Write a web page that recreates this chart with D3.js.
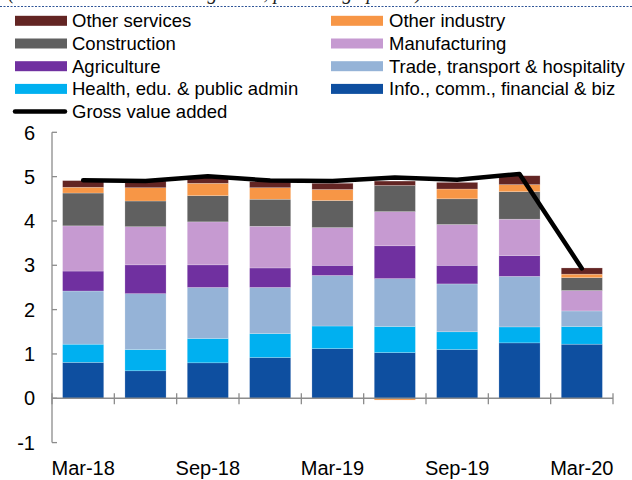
<!DOCTYPE html>
<html>
<head>
<meta charset="utf-8">
<script src="https://cdn.jsdelivr.net/npm/d3@7"></script>
<style>
  body { margin: 0; background: #fff; }
  svg { display: block; font-family: "Liberation Sans", Arial, sans-serif; }
</style>
</head>
<body>
<div id="chart"></div>
<script>
// Quarters on the x axis
const quarters = ["Mar-18", "Jun-18", "Sep-18", "Dec-18", "Mar-19", "Jun-19", "Sep-19", "Dec-19", "Mar-20"];
const tickLabels = ["Mar-18", "Sep-18", "Mar-19", "Sep-19", "Mar-20"];
const yTicks = [-1, 0, 1, 2, 3, 4, 5, 6];

// Contributions (percentage points), bottom to top of each stack
const infoCommFin   = [0.81, 0.62, 0.80, 0.92, 1.12, 1.03, 1.10, 1.25, 1.22];
const healthEdu     = [0.41, 0.48, 0.55, 0.54, 0.51, 0.59, 0.40, 0.36, 0.40];
const tradeTransport= [1.20, 1.26, 1.15, 1.04, 1.14, 1.08, 1.08, 1.14, 0.35];
const agriculture   = [0.45, 0.65, 0.51, 0.44, 0.23, 0.74, 0.42, 0.47, 0.00];
const manufacturing = [1.02, 0.86, 0.97, 0.94, 0.85, 0.77, 0.92, 0.82, 0.46];
const construction  = [0.74, 0.58, 0.59, 0.61, 0.61, 0.59, 0.58, 0.62, 0.29];
const otherIndustry = [0.13, 0.30, 0.28, 0.26, 0.25, -0.04, 0.22, 0.16, 0.08];
const otherServices = [0.15, 0.15, 0.13, 0.14, 0.14, 0.10, 0.15, 0.20, 0.14];
const grossValueAdded = [4.92, 4.90, 5.01, 4.91, 4.90, 4.98, 4.93, 5.06, 2.93];

const series = [
  { key: "info",   label: "Info., comm., financial & biz",   values: infoCommFin,    color: "#0e4fa0" },
  { key: "health", label: "Health, edu. & public admin",     values: healthEdu,      color: "#00b0f0" },
  { key: "trade",  label: "Trade, transport & hospitality",  values: tradeTransport, color: "#95b3d7" },
  { key: "agri",   label: "Agriculture",                     values: agriculture,    color: "#7030a0" },
  { key: "manuf",  label: "Manufacturing",                   values: manufacturing,  color: "#c69ad1" },
  { key: "constr", label: "Construction",                    values: construction,   color: "#606060" },
  { key: "othind", label: "Other industry",                  values: otherIndustry,  color: "#f79646" },
  { key: "othsrv", label: "Other services",                  values: otherServices,  color: "#632523" }
];

// legend order as laid out in two columns
const legendLeft  = ["othsrv", "constr", "agri", "health"];
const legendRight = ["othind", "manuf", "trade", "info"];

const width = 632;
const height = 480;

const svg = d3.select("#chart")
  .append("svg")
  .attr("width", width)
  .attr("height", height);

// subtitle cut off by the top edge (only descenders show), and dotted rule
svg.append("text")
  .attr("x", 8)
  .attr("y", -1)
  .attr("font-family", "Liberation Serif, serif")
  .attr("font-style", "italic")
  .attr("font-size", 20)
  .attr("fill", "#222")
  .text("(contributions to annual growth, percentage points)");

svg.append("line")
  .attr("x1", 0).attr("x2", width)
  .attr("y1", 6.5).attr("y2", 6.5)
  .attr("stroke", "#2f5597")
  .attr("stroke-width", 1.2)
  .attr("stroke-dasharray", "2,1.5");

// scales
const x = d3.scaleBand()
  .domain(quarters)
  .range([52, 613])
  .paddingInner(0.34)
  .paddingOuter(0.17);

const y = d3.scaleLinear()
  .domain([-1, 6])
  .range([442.6, 132.3]);

// stacked data
const table = quarters.map((q, i) => {
  const row = { quarter: q };
  series.forEach(s => { row[s.key] = s.values[i]; });
  return row;
});

const stacked = d3.stack()
  .keys(series.map(s => s.key))
  .offset(d3.stackOffsetDiverging)(table);

const colorOf = Object.fromEntries(series.map(s => [s.key, s.color]));
const labelOf = Object.fromEntries(series.map(s => [s.key, s.label]));

svg.append("g")
  .selectAll("g")
  .data(stacked)
  .enter().append("g")
  .attr("fill", d => colorOf[d.key])
  .selectAll("rect")
  .data(d => d)
  .enter().append("rect")
  .attr("x", d => x(d.data.quarter))
  .attr("width", x.bandwidth())
  .attr("y", d => y(Math.max(d[0], d[1])))
  .attr("height", d => Math.abs(y(d[0]) - y(d[1])))
  .attr("stroke", "rgba(255,255,255,0.35)")
  .attr("stroke-width", 0.6);

// axes
const axisColor = "#8c8c8c";
const axes = svg.append("g")
  .attr("stroke", axisColor)
  .attr("stroke-width", 1.3);

axes.append("line")
  .attr("x1", 52).attr("x2", 52)
  .attr("y1", y(6)).attr("y2", y(-1));

axes.selectAll(".ytick")
  .data(yTicks)
  .enter().append("line")
  .attr("x1", 52).attr("x2", 57)
  .attr("y1", d => y(d)).attr("y2", d => y(d));

axes.append("line")
  .attr("x1", x.range()[0]).attr("x2", x.range()[1])
  .attr("y1", y(0)).attr("y2", y(0));

const bounds = d3.range(quarters.length + 1).map(i => x.range()[0] + i * x.step());
axes.selectAll(".xtick")
  .data(bounds)
  .enter().append("line")
  .attr("x1", d => d).attr("x2", d => d)
  .attr("y1", y(0) - 5).attr("y2", y(0) + 6);

svg.append("g")
  .selectAll("text")
  .data(yTicks)
  .enter().append("text")
  .attr("x", 35)
  .attr("y", d => y(d))
  .attr("dy", "0.36em")
  .attr("text-anchor", "end")
  .attr("font-size", 20)
  .attr("fill", "#000")
  .text(d => d);

svg.append("g")
  .selectAll("text")
  .data(tickLabels)
  .enter().append("text")
  .attr("x", d => x(d) + x.bandwidth() / 2)
  .attr("y", 475)
  .attr("text-anchor", "middle")
  .attr("font-size", 20)
  .attr("fill", "#000")
  .text(d => d);

// gross value added line
const line = d3.line()
  .x((d, i) => x(quarters[i]) + x.bandwidth() / 2)
  .y(d => y(d));

svg.append("path")
  .datum(grossValueAdded)
  .attr("d", line)
  .attr("fill", "none")
  .attr("stroke", "#000")
  .attr("stroke-width", 4.5)
  .attr("stroke-linejoin", "round")
  .attr("stroke-linecap", "round");

// legend
const rowY = i => 20.8 + i * 22.7;
const legend = svg.append("g").attr("font-size", 18.5);

function legendColumn(keys, sx, tx) {
  keys.forEach((k, i) => {
    legend.append("rect")
      .attr("x", sx).attr("y", rowY(i) - 5)
      .attr("width", 52).attr("height", 10)
      .attr("fill", colorOf[k]);
    legend.append("text")
      .attr("x", tx).attr("y", rowY(i) + 6.5)
      .attr("fill", "#000")
      .text(labelOf[k]);
  });
}
legendColumn(legendLeft, 15, 72);
legendColumn(legendRight, 331, 389);

legend.append("line")
  .attr("x1", 15).attr("x2", 65)
  .attr("y1", rowY(4)).attr("y2", rowY(4))
  .attr("stroke", "#000")
  .attr("stroke-width", 4.5)
  .attr("stroke-linecap", "round");
legend.append("text")
  .attr("x", 72).attr("y", rowY(4) + 6.5)
  .attr("fill", "#000")
  .text("Gross value added");
</script>
</body>
</html>
